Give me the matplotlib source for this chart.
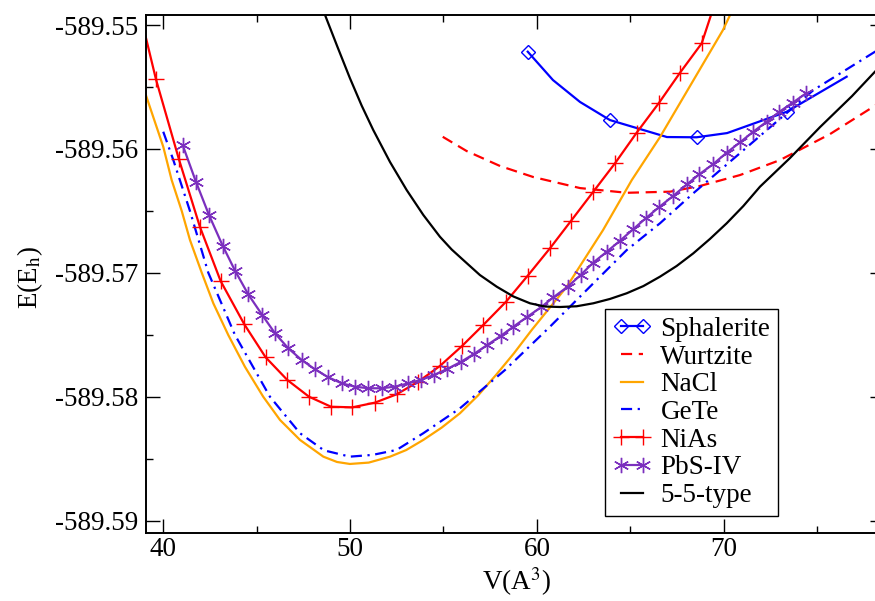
import matplotlib
matplotlib.use('Agg')
import matplotlib.pyplot as plt
from matplotlib.ticker import MultipleLocator, FormatStrFormatter

plt.rcParams['font.family'] = ['Liberation Serif', 'DejaVu Serif']
plt.rcParams['mathtext.fontset'] = 'stix'

# Sphalerite (markers at indices 0, 3, 5, 7)
sph_v = [59.51, 60.86, 62.31, 63.91, 66.96, 68.55, 70.18, 73.37, 76.58]
sph_e = [-589.55215, -589.55444, -589.55621, -589.55767, -589.55904,
         -589.55906, -589.55872, -589.55700, -589.55417]

# Wurtzite
wur_v = [54.96, 56.24, 58.03, 59.81, 62.31, 64.81, 67.13, 68.73, 70.87, 73.01,
         75.69, 78.58]
wur_e = [-589.55902, -589.56017, -589.56138, -589.56227, -589.56316, -589.56354,
         -589.56345, -589.56299, -589.56211, -589.56090, -589.55880, -589.55605]

# NaCl
nacl_v = [39.07, 39.46, 40.00, 40.45, 40.99, 41.43, 42.06, 42.68, 43.48, 44.37,
          45.35, 46.25, 47.32, 48.57, 49.30, 49.99, 51.00, 52.14, 53.00, 53.92,
          54.90, 55.88, 56.85, 57.81, 58.77, 59.72, 61.60, 63.54, 65.08, 66.59,
          69.96, 70.34]
nacl_e = [-589.55565, -589.55740, -589.55982, -589.56251, -589.56501, -589.56735,
          -589.56999, -589.57246, -589.57502, -589.57758, -589.58000, -589.58188,
          -589.58349, -589.58484, -589.58527, -589.58543, -589.58532, -589.58484,
          -589.58431, -589.58349, -589.58250, -589.58134, -589.57990, -589.57825,
          -589.57650, -589.57462, -589.57112, -589.56655, -589.56251, -589.55904,
          -589.55040, -589.54919]

# GeTe
gete_v = [40.00, 40.54, 41.43, 42.41, 43.84, 45.71, 47.32, 48.60, 49.99, 51.20,
          52.49, 53.92, 55.88, 58.29, 60.70, 63.02, 64.81, 66.59, 68.37, 74.80,
          78.58]
gete_e = [-589.55861, -589.56090, -589.56501, -589.56999, -589.57502, -589.58000,
          -589.58295, -589.58433, -589.58484, -589.58470, -589.58430, -589.58295,
          -589.58094, -589.57785, -589.57435, -589.57085, -589.56816, -589.56600,
          -589.56358, -589.55525, -589.55170]

# NiAs (first and last points are line ends, no marker)
nias_v = [39.06, 39.61, 40.84, 41.96, 43.07, 44.34, 45.48, 46.64, 47.80, 48.98,
          50.12, 51.33, 52.49, 53.65, 54.81, 55.99, 57.13, 58.35, 59.51, 60.70,
          61.83, 63.02, 64.18, 65.34, 66.54, 67.66, 68.82, 69.32]
nias_e = [-589.55094, -589.55438, -589.56084, -589.56628, -589.57066, -589.57416,
          -589.57682, -589.57865, -589.58000, -589.58081, -589.58086, -589.58048,
          -589.57981, -589.57879, -589.57752, -589.57591, -589.57421, -589.57233,
          -589.57023, -589.56802, -589.56580, -589.56345, -589.56116, -589.55869,
          -589.55627, -589.55385, -589.55148, -589.54919]

# PbS-IV
pbs_v = [41.04, 41.75, 42.45, 43.18, 43.85, 44.55, 45.30, 45.98, 46.69, 47.41,
         48.12, 48.83, 49.55, 50.26, 50.97, 51.69, 52.40, 53.12, 53.78, 54.49,
         55.20, 55.92, 56.63, 57.34, 58.06, 58.74, 59.45, 60.22, 60.88, 61.65,
         62.34, 63.02, 63.74, 64.45, 65.16, 65.84, 66.56, 67.29, 68.02, 68.69,
         69.44, 70.16, 70.87, 71.58, 72.30, 72.98, 73.69, 74.41]
pbs_e = [-589.55969, -589.56265, -589.56534, -589.56781, -589.56985, -589.57174,
         -589.57341, -589.57488, -589.57609, -589.57704, -589.57779, -589.57843,
         -589.57892, -589.57919, -589.57932, -589.57932, -589.57919, -589.57892,
         -589.57865, -589.57825, -589.57776, -589.57720, -589.57655, -589.57583,
         -589.57510, -589.57435, -589.57359, -589.57278, -589.57198, -589.57112,
         -589.57018, -589.56917, -589.56830, -589.56741, -589.56647, -589.56558,
         -589.56467, -589.56380, -589.56287, -589.56205, -589.56122, -589.56030,
         -589.55947, -589.55861, -589.55780, -589.55700, -589.55627, -589.55551]

# 5-5-type
t55_v = [48.66, 49.33, 49.99, 50.62, 51.24, 52.14, 53.03, 53.92, 54.81, 55.44,
         56.06, 56.95, 57.85, 58.74, 59.63, 60.43, 61.24, 62.13, 63.02, 63.91,
         64.81, 65.70, 66.59, 67.48, 68.37, 69.26, 70.16, 71.05, 71.94, 73.55,
         75.16, 76.87, 78.58]
t55_e = [-589.54919, -589.55178, -589.55428, -589.55650, -589.55847, -589.56106,
         -589.56332, -589.56533, -589.56709, -589.56812, -589.56897, -589.57018,
         -589.57112, -589.57191, -589.57246, -589.57272, -589.57276, -589.57270,
         -589.57246, -589.57211, -589.57165, -589.57107, -589.57031, -589.56945,
         -589.56843, -589.56727, -589.56600, -589.56461, -589.56305, -589.56073,
         -589.55823, -589.55573, -589.55299]

purple = '#7b2fbe'
lw = 1.6

fig = plt.figure(figsize=(8.75, 6.01), dpi=100)
ax = fig.add_axes([0.1665, 0.1126, 0.8438, 0.8624])

ax.plot(sph_v, sph_e, color='blue', lw=lw, marker='D', ms=7, mfc='none',
        mew=1.0, markevery=[0, 3, 5, 7], label='Sphalerite')
ax.plot(wur_v, wur_e, color='red', lw=lw, ls=(0, (5, 3)), label='Wurtzite')
ax.plot(nacl_v, nacl_e, color='orange', lw=lw, label='NaCl')
ax.plot(gete_v, gete_e, color='blue', lw=lw, ls=(0, (5, 2.5, 1, 2.5)), label='GeTe')
ax.plot(nias_v, nias_e, color='red', lw=lw, marker='+', ms=12, mew=1.0,
        markevery=slice(1, -1), label='NiAs')
ax.plot(pbs_v, pbs_e, color=purple, lw=lw, marker=(6, 2, 0), ms=11, mew=1.0,
        label='PbS-IV')
ax.plot(t55_v, t55_e, color='black', lw=lw, label='5-5-type')

ax.set_xlim(39.06, 78.58)
ax.set_ylim(-589.59103, -589.54919)
ax.xaxis.set_major_locator(MultipleLocator(10))
ax.xaxis.set_minor_locator(MultipleLocator(5))
ax.yaxis.set_major_locator(MultipleLocator(0.01))
ax.yaxis.set_minor_locator(MultipleLocator(0.005))
ax.yaxis.set_major_formatter(FormatStrFormatter('%.2f'))
ax.tick_params(which='both', direction='in', top=True, right=True, width=1.0,
               labelsize=19.5)
ax.tick_params(which='major', length=10)
ax.tick_params(which='minor', length=5)
ax.tick_params(axis='y', pad=5)
ax.tick_params(axis='x', pad=3)
for s in ax.spines.values():
    s.set_linewidth(1.4)

ax.set_xlabel(r'V(A$^3$)', fontsize=19.5)
ax.set_ylabel(r'E(E$_\mathrm{h}$)', fontsize=19.5)
ax.xaxis.set_label_coords(0.502, -0.061)
ax.yaxis.set_label_coords(-0.136, 0.493)

leg = ax.legend(loc='lower left', bbox_to_anchor=(0.622, 0.033), fontsize=19.5,
                numpoints=2, handlelength=1.4, handletextpad=0.35, labelspacing=0.1,
                borderpad=0.3, borderaxespad=0, fancybox=False, framealpha=1)
leg.get_frame().set_edgecolor('black')
leg.get_frame().set_linewidth(1.0)

fig.savefig('out.png', dpi=100)
